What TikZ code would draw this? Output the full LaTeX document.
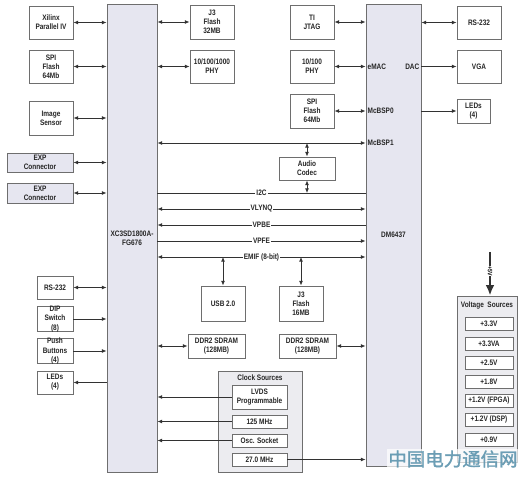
\documentclass[tikz,border=0pt]{standalone}
\usepackage{fontspec}
\setmainfont{Liberation Sans}[FakeStretch=0.82]
\newfontfamily\cjk{Noto Sans CJK SC}[FakeBold=1.5]
\usetikzlibrary{arrows.meta}
\definecolor{chip}{RGB}{230,230,240}
\definecolor{grp}{RGB}{236,236,240}
\definecolor{edge}{RGB}{110,110,110}
\definecolor{wirec}{RGB}{50,50,50}
\definecolor{wm}{RGB}{95,150,175}
\newcommand{\bx}[7]{\node[#7, minimum width={(#4-#2)*0.02cm}, minimum height={(#5-#3)*0.02cm}] (#1) at ({(#2+#4)/2},{(#3+#5)/2}) {#6};}
\begin{document}
\begin{tikzpicture}[x=0.02cm,y=-0.02cm, font=\fontsize{4.5}{5.2}\selectfont\bfseries,
 box/.style={draw=edge, line width=0.5pt, fill=white, align=center, inner sep=0pt, text=black!85},
 chipbox/.style={box, fill=chip},
 grpbox/.style={box, fill=grp},
 wire/.style={draw=wirec, line width=0.45pt},
 both/.style={wire, {Latex[length=2.6pt,width=2.2pt]}-{Latex[length=2.6pt,width=2.2pt]}},
 fwd/.style={wire, -{Latex[length=2.6pt,width=2.2pt]}},
 bus/.style={fill=white, inner sep=0.6pt, text=black!85},
 lbl/.style={inner sep=1pt, text=black!85}]
\useasboundingbox (0,0) rectangle (528,479);
% chips
\bx{fpga}{107}{4}{157}{472}{XC3SD1800A-\\FG676}{chipbox}
\bx{dm}{366}{4}{421}{466}{DM6437}{chipbox}
% left column
\bx{xil}{29}{6}{73}{39}{Xilinx\\Parallel IV}{box}
\bx{spil}{29}{50}{73}{83}{SPI\\Flash\\64Mb}{box}
\bx{img}{29}{101}{73}{135}{Image\\Sensor}{box}
\bx{expa}{7}{153}{73}{172}{EXP\\Connector}{chipbox}
\bx{expb}{7}{183}{73}{203}{EXP\\Connector}{chipbox}
\bx{rsl}{37}{276}{73}{299}{RS-232}{box}
\bx{dip}{37}{307}{73}{331}{DIP\\Switch\\(8)}{box}
\bx{push}{37}{339}{73}{363}{Push\\Buttons\\(4)}{box}
\bx{ledl}{37}{371}{73}{394}{LEDs\\(4)}{box}
\foreach \n in {xil,spil,img,expa,expb,rsl}{\draw[both] (\n.east) -- (\n.east -| fpga.west);}
\draw[fwd] (dip.east) -- (dip.east -| fpga.west);
\draw[fwd] (push.east) -- (push.east -| fpga.west);
\draw[fwd] (ledl.east -| fpga.west) -- (ledl.east);
% right of FPGA
\bx{jfa}{190}{5}{234}{39}{J3\\Flash\\32MB}{box}
\bx{phya}{190}{50}{234}{83}{10/100/1000\\PHY}{box}
\draw[both] (jfa.west -| fpga.east) -- (jfa.west);
\draw[both] (phya.west -| fpga.east) -- (phya.west);
% left of DM
\bx{jtag}{290}{5}{334}{39}{TI\\JTAG}{box}
\bx{phyb}{290}{50}{334}{83}{10/100\\PHY}{box}
\bx{spir}{290}{94}{334}{128}{SPI\\Flash\\64Mb}{box}
\bx{codec}{279}{157}{335}{180}{Audio\\Codec}{box}
\foreach \n in {jtag,phyb,spir}{\draw[both] (\n.east) -- (\n.east -| dm.west);}
\node[lbl, anchor=west] (emac) at (dm.west |- phyb.east) {eMAC};
\node[lbl, anchor=west] (mcb0) at (dm.west |- spir.east) {McBSP0};
% buses
\coordinate (ymcb) at (0,143);
\coordinate (yi2c) at (0,193);
\coordinate (yvly) at (0,209);
\coordinate (yvpbe) at (0,225);
\coordinate (yvpfe) at (0,241);
\coordinate (yemif) at (0,257);
\draw[both] (fpga.east |- ymcb) -- (dm.west |- ymcb);
\node[lbl, anchor=west] (mcb1) at (dm.west |- ymcb) {McBSP1};
\draw[wire] (fpga.east |- yi2c) -- node[bus]{I2C} (dm.west |- yi2c);
\draw[both] (fpga.east |- yvly) -- node[bus]{VLYNQ} (dm.west |- yvly);
\draw[fwd] (dm.west |- yvpbe) -- node[bus]{VPBE} (fpga.east |- yvpbe);
\draw[fwd] (fpga.east |- yvpfe) -- node[bus]{VPFE} (dm.west |- yvpfe);
\draw[both] (fpga.east |- yemif) -- node[bus]{EMIF (8-bit)} (dm.west |- yemif);
\draw[both] (codec.north) -- (codec.north |- ymcb);
\draw[both] (codec.south) -- (codec.south |- yi2c);
% EMIF devices
\bx{usb}{201}{286}{245}{321}{USB 2.0}{box}
\bx{jfb}{279}{286}{323}{321}{J3\\Flash\\16MB}{box}
\draw[both] (usb.north) -- (usb.north |- yemif);
\draw[both] (jfb.north) -- (jfb.north |- yemif);
% DDR2
\bx{ddra}{188}{334}{245}{358}{DDR2 SDRAM\\(128MB)}{box}
\bx{ddrb}{279}{334}{336}{358}{DDR2 SDRAM\\(128MB)}{box}
\draw[both] (ddra.west -| fpga.east) -- (ddra.west);
\draw[both] (ddrb.east) -- (ddrb.east -| dm.west);
% clock sources
\bx{clk}{218}{371}{302}{472}{}{grpbox}
\node[lbl] (clkt) at (260,378) {Clock Sources};
\bx{lvds}{232}{385}{287}{409}{LVDS\\Programmable}{box}
\bx{c125}{232}{415}{287}{428}{125 MHz}{box}
\bx{osc}{232}{434}{287}{447}{Osc. Socket}{box}
\bx{c27}{232}{453}{287}{466}{27.0 MHz}{box}
\foreach \n in {lvds,c125,osc}{\draw[fwd] (\n.west) -- (\n.west -| fpga.east);}
\draw[fwd] (c27.east) -- (c27.east -| dm.west);
% right column
\bx{rsr}{457}{6}{501}{39}{RS-232}{box}
\bx{vga}{457}{50}{501}{83}{VGA}{box}
\bx{ledr}{457}{99}{490}{123}{LEDs\\(4)}{box}
\draw[both] (rsr.west -| dm.east) -- (rsr.west);
\draw[fwd] (vga.west -| dm.east) -- (vga.west);
\draw[fwd] (ledr.west -| dm.east) -- (ledr.west);
\node[lbl, anchor=east] (dac) at (dm.east |- vga.west) {DAC};
% voltage sources
\bx{vs}{457}{296}{517}{462}{}{grpbox}
\node[lbl] (vst) at (487,305) {Voltage\ \ Sources};
\bx{va}{465}{317}{513}{330}{+3.3V}{box}
\bx{vb}{465}{337}{513}{350}{+3.3VA}{box}
\bx{vc}{465}{356}{513}{369}{+2.5V}{box}
\bx{vd}{465}{375}{513}{388}{+1.8V}{box}
\bx{ve}{465}{394}{513}{407}{+1.2V (FPGA)}{box}
\bx{vf}{465}{413}{513}{426}{+1.2V (DSP)}{box}
\bx{vg}{465}{433}{513}{446}{+0.9V}{box}
\coordinate (v5) at (490,252);
\draw[draw=wirec, line width=1.3pt, -{Latex[length=6pt,width=5pt]}] (v5) -- (v5 |- vs.north);
\node[fill=white, inner sep=0.4pt, rotate=-90, font=\fontsize{3.6}{4}\selectfont\bfseries] (v5l) at (490,271) {+5V};
% watermark
\node[font=\cjk\fontsize{10.5}{11}\selectfont, text=wm, fill=white, fill opacity=0.7, text opacity=0.9, inner sep=1pt] (wmark) at (453,459) {中国电力通信网};
\end{tikzpicture}
\end{document}
